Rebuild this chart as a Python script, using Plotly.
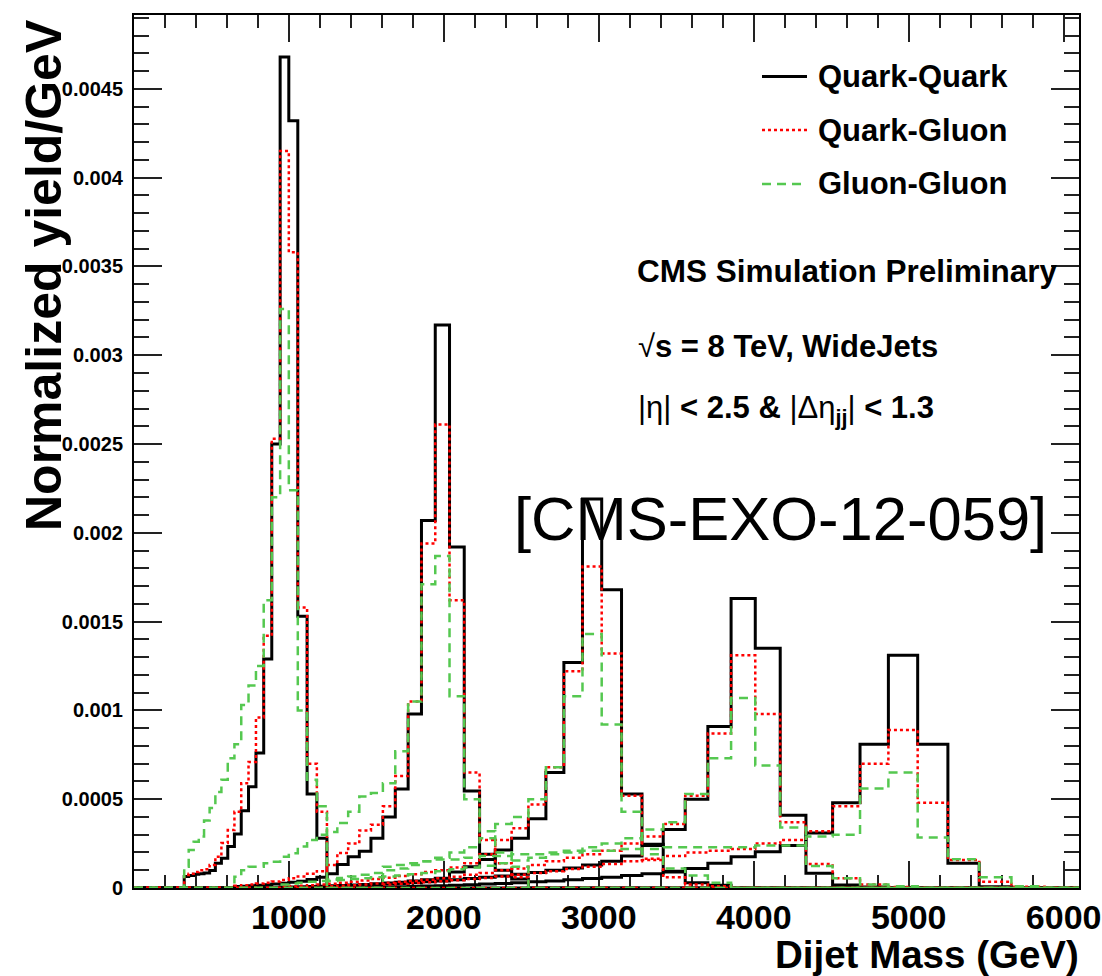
import plotly.graph_objects as go

# ---------------- data ----------------
edges = [1, 3, 6, 10, 16, 23, 31, 40, 50, 61, 74, 88, 103, 119, 137, 156, 176, 197, 220, 244,
         270, 296, 325, 354, 386, 419, 453, 489, 526, 565, 606, 649, 693, 740, 788, 838, 890,
         944, 1000, 1058, 1118, 1181, 1246, 1313, 1383, 1455, 1530, 1607, 1687, 1770, 1856,
         1945, 2037, 2132, 2231, 2332, 2438, 2546, 2659, 2775, 2895, 3019, 3147, 3279, 3416,
         3558, 3704, 3854, 4010, 4171, 4337, 4509, 4686, 4869, 5058, 5253, 5455, 5663, 5877, 6099]

# first populated bin (lower edge) for each resonance mass
start_1000 = 325
start_2000 = 649
start_3000 = 944
start_4000 = 1246
start_5000 = 1607

qq_1000 = [0.000065, 0.000070, 0.000077, 0.000080, 0.000085, 0.000098, 0.000139, 0.000167, 0.000233,
           0.000304, 0.000435, 0.00057, 0.00076, 0.00129, 0.0025, 0.00468, 0.00432, 0.00153, 0.00053, 0.00028]
qg_1000 = [0.000073, 0.000080, 0.000090, 0.0001, 0.000105, 0.00013, 0.000176, 0.000253, 0.000326,
           0.00043, 0.00059, 0.00071, 0.00096, 0.00142, 0.00253, 0.00415, 0.00358, 0.00158, 0.0007, 0.00043]
gg_1000 = [0.00012, 0.000214, 0.00026, 0.00029, 0.00038, 0.00045, 0.00054, 0.00061, 0.00073,
           0.00081, 0.00103, 0.00114, 0.00125, 0.00162, 0.0022, 0.00326, 0.00224, 0.001, 0.00061, 0.00046]

qq_2000 = [0.000008, 0.00001, 0.000012, 0.000015, 0.000018, 0.000022, 0.000027, 0.000032, 0.000038,
           0.000048, 0.00006, 0.00008, 0.000133, 0.000176, 0.000207, 0.00028, 0.0004, 0.000557, 0.00098,
           0.00207, 0.00317, 0.00192, 0.000546, 0.00019, 0.0001, 0.00005]
qg_2000 = [0.000012, 0.000015, 0.00002, 0.000025, 0.00003, 0.000036, 0.000045, 0.000055, 0.000065,
           0.00008, 0.000095, 0.00013, 0.000197, 0.00025, 0.000324, 0.000356, 0.00046, 0.00063, 0.00105,
           0.00194, 0.00261, 0.00162, 0.00065, 0.00027, 0.00014, 0.00006]
gg_2000 = [0.000064, 0.0001, 0.00012, 0.00012, 0.000139, 0.000148, 0.000176, 0.000195, 0.000233,
           0.00027, 0.0003, 0.000315, 0.000366, 0.00043, 0.000515, 0.000535, 0.00059, 0.00077, 0.00105,
           0.00171, 0.00187, 0.00108, 0.0005, 0.00032, 0.0002, 0.00012]

qq_3000 = [0.000005, 0.000006, 0.000007, 0.000008, 0.00001, 0.000012, 0.000014, 0.000017, 0.00002,
           0.000024, 0.000028, 0.000033, 0.000039, 0.000046, 0.000055, 0.00009, 0.00012, 0.00016,
           0.000214, 0.00028, 0.00039, 0.00065, 0.00127, 0.00219, 0.00168, 0.00053, 0.000246, 0.00009,
           0.00003, 0.000015]
qg_3000 = [0.000008, 0.00001, 0.000013, 0.000016, 0.00002, 0.000024, 0.000029, 0.000035, 0.000042,
           0.00005, 0.000058, 0.000068, 0.000078, 0.00009, 0.0001, 0.000115, 0.00014, 0.00019, 0.00027,
           0.000336, 0.00047, 0.00068, 0.00122, 0.00181, 0.00132, 0.00052, 0.000158, 0.00006, 0.00002,
           0.00001]
gg_3000 = [0.00002, 0.000025, 0.00003, 0.000035, 0.00004, 0.000048, 0.000056, 0.000065, 0.000075,
           0.000085, 0.0001, 0.00011, 0.00013, 0.00015, 0.00017, 0.0002, 0.00023, 0.00028, 0.00036,
           0.0004, 0.0005, 0.00068, 0.00108, 0.00143, 0.00092, 0.00043, 0.00019, 0.00011, 0.00007,
           0.00003]

qq_4000 = [0.000008, 0.00001, 0.000012, 0.000015, 0.000018, 0.000022, 0.000026, 0.00003, 0.000035,
           0.00004, 0.000046, 0.000053, 0.00006, 0.000068, 0.000077, 0.000087, 0.0001, 0.000113, 0.00013,
           0.00015, 0.00018, 0.00024, 0.00033, 0.0005, 0.00091, 0.00163, 0.00135, 0.00041, 0.000083,
           0.000017, 0.000005, 0.0]
qg_4000 = [0.00001, 0.000013, 0.000016, 0.00002, 0.000025, 0.00003, 0.000035, 0.00004, 0.000047,
           0.000055, 0.000064, 0.000074, 0.000085, 0.0001, 0.00011, 0.00013, 0.00015, 0.00017, 0.00019,
           0.00021, 0.00025, 0.00029, 0.00036, 0.00052, 0.00087, 0.00131, 0.00098, 0.00037, 0.000135,
           0.000055, 0.00002, 0.000005]
gg_4000 = [0.00004, 0.000045, 0.00005, 0.000055, 0.00006, 0.000065, 0.00007, 0.000078, 0.000085,
           0.000095, 0.000105, 0.000115, 0.000125, 0.00014, 0.000155, 0.00017, 0.00019, 0.00021, 0.00023,
           0.00025, 0.00028, 0.00033, 0.00037, 0.00053, 0.00073, 0.00107, 0.00069, 0.00034, 0.000124,
           0.000055, 0.00002, 0.00001]

qq_5000 = [0.000005, 0.000007, 0.000009, 0.000011, 0.000013, 0.000016, 0.000019, 0.000022, 0.000026,
           0.00003, 0.000035, 0.00004, 0.000046, 0.000053, 0.00006, 0.00007, 0.00008, 0.000095, 0.00011,
           0.00014, 0.000176, 0.000204, 0.00024, 0.00031, 0.00048, 0.00081, 0.00131, 0.00081, 0.00014,
           0.000007, 0.000003, 0.0]
qg_5000 = [0.00002, 0.000024, 0.000028, 0.000033, 0.000038, 0.000044, 0.00005, 0.000057, 0.000065,
           0.000074, 0.000084, 0.000095, 0.000107, 0.00012, 0.000135, 0.00015, 0.000165, 0.00018, 0.0002,
           0.00021, 0.00022, 0.00025, 0.00027, 0.00032, 0.00046, 0.0007, 0.00089, 0.00048, 0.000158,
           0.000035, 0.000007, 0.0]
gg_5000 = [0.00012, 0.00013, 0.00014, 0.00015, 0.00016, 0.00016, 0.00017, 0.00018, 0.00018, 0.00019,
           0.00019, 0.0002, 0.0002, 0.00021, 0.00021, 0.00022, 0.00022, 0.00023, 0.00023, 0.00023,
           0.00023, 0.00024, 0.00024, 0.00029, 0.0003, 0.00056, 0.00065, 0.000285, 0.000162, 0.00006,
           0.00001, 0.0]

x_tick_vals = [1000, 2000, 3000, 4000, 5000, 6000]
x_tick_text = ["1000", "2000", "3000", "4000", "5000", "6000"]
y_tick_vals = [0, 0.0005, 0.001, 0.0015, 0.002, 0.0025, 0.003, 0.0035, 0.004, 0.0045]
y_tick_text = ["0", "0.0005", "0.001", "0.0015", "0.002", "0.0025", "0.003", "0.0035", "0.004", "0.0045"]
legend_names = ["Quark-Quark", "Quark-Gluon", "Gluon-Gluon"]

# ---------------- figure ----------------
FONT = "Liberation Sans, Arial, Helvetica, sans-serif"
BLACK = "#000000"
RED = "#ff0000"
GREEN = "#55c850"

nbins = len(edges) - 1


def full_hist(start, vals):
    arr = [0.0] * nbins
    i0 = edges.index(start)
    for k, v in enumerate(vals):
        arr[i0 + k] = v
    return arr


def step_trace(start, vals, color, dash, width):
    h = full_hist(start, vals)
    ys = [0.0] + h + [h[-1]]
    xs = [edges[0]] + edges
    return go.Scatter(x=xs, y=ys, mode="lines", line=dict(color=color, dash=dash, width=width, shape="hv"),
                      showlegend=False, hoverinfo="skip")


fig = go.Figure()
sets = [
    (start_1000, qq_1000, qg_1000, gg_1000),
    (start_2000, qq_2000, qg_2000, gg_2000),
    (start_3000, qq_3000, qg_3000, gg_3000),
    (start_4000, qq_4000, qg_4000, gg_4000),
    (start_5000, qq_5000, qg_5000, gg_5000),
]
for st, qq, qg, gg in sets:
    fig.add_trace(step_trace(st, qq, BLACK, "solid", 3))
for st, qq, qg, gg in sets:
    fig.add_trace(step_trace(st, qg, RED, "3px,3px", 2.5))
for st, qq, qg, gg in sets:
    fig.add_trace(step_trace(st, gg, GREEN, "9px,6px", 2.5))

W, H = 1102, 976
L, R, T, B = 134, 23, 15, 88
PW, PH = W - L - R, H - T - B


def px(xp):
    return (xp - L) / PW


def py(yp):
    return (H - B - yp) / PH


annotations = []
shapes = []
# legend (manual, ROOT-like)
leg_rows = [76.5, 130, 184]
leg_styles = [(BLACK, "solid", 3), (RED, "3px,3px", 2.5), (GREEN, "9px,6px", 2.5)]
for name, yrow, (c, d, w) in zip(legend_names, leg_rows, leg_styles):
    shapes.append(dict(type="line", xref="paper", yref="paper", x0=px(762), x1=px(807), y0=py(yrow), y1=py(yrow),
                       line=dict(color=c, dash=d, width=w)))
    annotations.append(dict(text="<b>%s</b>" % name, xref="paper", yref="paper", x=px(816), y=py(yrow),
                            xanchor="left", yanchor="middle", showarrow=False,
                            font=dict(family=FONT, size=31, color="black")))

annotations += [
    dict(text="<b>CMS Simulation Preliminary</b>", xref="paper", yref="paper", x=px(635), y=py(271),
         xanchor="left", yanchor="middle", showarrow=False, font=dict(family=FONT, size=31.5, color="black")),
    dict(text="\u221A<b>s = 8 TeV, WideJets</b>", xref="paper", yref="paper", x=px(636), y=py(346),
         xanchor="left", yanchor="middle", showarrow=False, font=dict(family=FONT, size=31, color="black")),
    dict(text="|\u03b7| <b>&lt; 2.5 &amp; </b>|\u0394\u03b7<sub><b>jj</b></sub>| <b>&lt; 1.3</b>",
         xref="paper", yref="paper", x=px(636), y=py(410),
         xanchor="left", yanchor="middle", showarrow=False, font=dict(family=FONT, size=31, color="black")),
    dict(text="[CMS-EXO-12-059]", xref="paper", yref="paper", x=px(512), y=py(518),
         xanchor="left", yanchor="middle", showarrow=False, font=dict(family=FONT, size=61.5, color="black")),
    dict(text="<b>Normalized yield/GeV</b>", xref="paper", yref="paper", x=px(44), y=py(17),
         xanchor="center", yanchor="top", textangle=-90, showarrow=False,
         font=dict(family=FONT, size=50, color="black")),
    dict(text="<b>Dijet Mass (GeV)</b>", xref="paper", yref="paper", x=px(1080), y=py(954),
         xanchor="right", yanchor="middle", showarrow=False, borderpad=0,
         font=dict(family=FONT, size=38.5, color="black")),
]

fig.update_layout(
    width=W, height=H,
    margin=dict(l=L, r=R, t=T, b=B, pad=0, autoexpand=False),
    paper_bgcolor="white", plot_bgcolor="white",
    showlegend=False,
    annotations=annotations,
    shapes=shapes,
    xaxis=dict(range=[edges[0], edges[-1]], tickvals=x_tick_vals, ticktext=x_tick_text,
               ticks="inside", ticklen=27, tickwidth=1.5, tickcolor="#222", automargin=False,
               layer="below traces", ticklabelstandoff=-2,
               minor=dict(ticks="inside", ticklen=13, tickwidth=1.5, tickcolor="#222", dtick=200, tick0=0),
               showline=True, linecolor="black", linewidth=2, mirror="allticks",
               showgrid=False, zeroline=False,
               tickfont=dict(family=FONT, size=34, color="black", weight="bold")),
    yaxis=dict(range=[0, 0.004916], tickvals=y_tick_vals, ticktext=y_tick_text,
               ticks="inside", ticklen=28, tickwidth=1.5, tickcolor="#222", automargin=False,
               ticklabelstandoff=5,
               minor=dict(ticks="inside", ticklen=15, tickwidth=1.5, tickcolor="#222", dtick=0.0001, tick0=0),
               showline=True, linecolor="black", linewidth=2, mirror="allticks",
               showgrid=False, zeroline=False,
               tickfont=dict(family=FONT, size=20, color="black", weight="bold")),
)

fig.write_html("out.html")
